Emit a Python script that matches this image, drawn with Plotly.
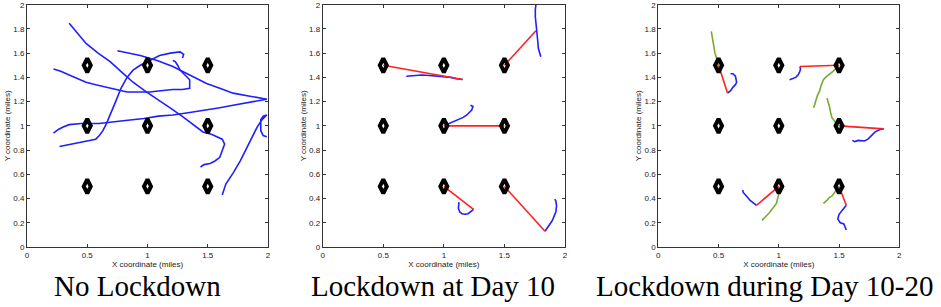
import plotly.graph_objects as go

# ---------------- data ----------------
site_x = [0.5, 1.0, 1.5, 0.5, 1.0, 1.5, 0.5, 1.0, 1.5]
site_y = [0.5, 0.5, 0.5, 1.0, 1.0, 1.0, 1.5, 1.5, 1.5]

panel_titles = ["No Lockdown", "Lockdown at Day 10", "Lockdown during Day 10-20"]
x_ticks = [0, 0.5, 1, 1.5, 2]
x_tick_text = ["0", "0.5", "1", "1.5", "2"]
y_ticks = [0, 0.2, 0.4, 0.6, 0.8, 1, 1.2, 1.4, 1.6, 1.8, 2]
y_tick_text = ["0", "0.2", "0.4", "0.6", "0.8", "1", "1.2", "1.4", "1.6", "1.8", "2"]

# Panel 1: free movement (blue)
nolock_blue_x = [
    [0.35, 0.42, 0.49, 0.59, 0.69, 0.79, 0.88, 0.99, 1.10, 1.20, 1.30, 1.38, 1.46, 1.53, 1.58, 1.62, 1.64, 1.62, 1.60, 1.56, 1.52, 1.47, 1.44],
    [0.75, 0.85, 0.94, 1.08, 1.21, 1.35, 1.49, 1.60, 1.71, 1.85, 1.99],
    [0.22, 0.28, 0.35, 0.42, 0.49, 0.57, 0.66, 0.74, 0.83, 0.92, 1.02, 1.11, 1.21, 1.29, 1.35, 1.35, 1.31, 1.27, 1.25, 1.23, 1.21],
    [0.27, 0.32, 0.38, 0.45, 0.52, 0.57, 0.60, 0.63, 0.66, 0.70, 0.74, 0.78, 0.83, 0.88, 0.94, 1.02, 1.10, 1.19, 1.27, 1.30, 1.29],
    [0.22, 0.26, 0.30, 0.35, 0.45, 0.60, 0.78, 0.97, 1.09, 1.21, 1.35, 1.49, 1.60, 1.71, 1.85, 1.99],
    [1.62, 1.65, 1.71, 1.77, 1.83, 1.87, 1.91, 1.95, 1.99, 1.96, 1.94, 1.94, 1.96, 1.99],
]
nolock_blue_y = [
    [1.846, 1.76, 1.68, 1.60, 1.53, 1.44, 1.36, 1.28, 1.21, 1.14, 1.07, 1.01, 0.95, 0.93, 0.91, 0.89, 0.85, 0.79, 0.74, 0.71, 0.69, 0.68, 0.66],
    [1.62, 1.60, 1.58, 1.54, 1.49, 1.42, 1.35, 1.31, 1.27, 1.245, 1.22],
    [1.47, 1.45, 1.42, 1.39, 1.36, 1.34, 1.32, 1.30, 1.28, 1.28, 1.28, 1.29, 1.30, 1.30, 1.31, 1.38, 1.42, 1.46, 1.50, 1.53, 1.54],
    [0.83, 0.84, 0.85, 0.87, 0.88, 0.89, 0.92, 0.96, 1.02, 1.11, 1.21, 1.31, 1.40, 1.46, 1.50, 1.54, 1.58, 1.60, 1.61, 1.59, 1.56],
    [0.94, 0.97, 0.99, 1.01, 1.02, 1.02, 1.04, 1.06, 1.08, 1.09, 1.11, 1.13, 1.15, 1.17, 1.195, 1.22],
    [0.43, 0.52, 0.61, 0.71, 0.83, 0.91, 0.99, 1.05, 1.09, 1.08, 1.05, 0.96, 0.92, 0.91],
]

# Panel 2: lockdown at day 10 (red = jump home, blue = wandering)
day10_red_x = [[0.5, 1.155], [1.5, 1.76], [1.0, 1.5], [1.0, 1.245], [1.5, 1.835]]
day10_red_y = [[1.5, 1.383], [1.5, 1.785], [1.0, 1.0], [0.5, 0.31], [0.5, 0.13]]
day10_blue_x = [
    [0.69, 0.76, 0.82, 0.88, 0.94, 1.00, 1.06, 1.10, 1.155],
    [1.80, 1.79, 1.78, 1.775, 1.77, 1.765, 1.76, 1.755, 1.755, 1.76],
    [1.00, 1.05, 1.11, 1.16, 1.19, 1.21, 1.23, 1.24, 1.22],
    [1.245, 1.22, 1.20, 1.175, 1.15, 1.13, 1.12, 1.125],
    [1.835, 1.85, 1.87, 1.89, 1.90, 1.915, 1.925, 1.93, 1.925, 1.915],
]
day10_blue_y = [
    [1.41, 1.415, 1.42, 1.415, 1.41, 1.405, 1.40, 1.39, 1.383],
    [1.57, 1.60, 1.64, 1.70, 1.74, 1.785, 1.84, 1.90, 1.96, 2.0],
    [1.00, 1.02, 1.05, 1.07, 1.09, 1.11, 1.13, 1.16, 1.17],
    [0.31, 0.29, 0.275, 0.27, 0.275, 0.29, 0.32, 0.37],
    [0.13, 0.15, 0.18, 0.21, 0.23, 0.26, 0.29, 0.34, 0.38, 0.395],
]

# Panel 3: lockdown during day 10-20 (green = return after lockdown)
period_red_x = [[0.5, 0.575], [1.5, 1.175], [1.5, 1.87], [1.0, 0.815], [1.5, 1.56]]
period_red_y = [[1.5, 1.27], [1.5, 1.49], [1.0, 0.975], [0.5, 0.344], [0.5, 0.344]]
period_blue_x = [
    [0.575, 0.60, 0.62, 0.64, 0.65, 0.645, 0.64, 0.62, 0.60],
    [1.175, 1.18, 1.175, 1.16, 1.14, 1.11, 1.09],
    [1.87, 1.84, 1.80, 1.77, 1.74, 1.71, 1.69, 1.66, 1.63, 1.61],
    [0.815, 0.79, 0.76, 0.74, 0.72, 0.705, 0.70],
    [1.56, 1.54, 1.52, 1.50, 1.49, 1.51, 1.54, 1.555, 1.56],
]
period_blue_y = [
    [1.27, 1.29, 1.32, 1.34, 1.36, 1.39, 1.41, 1.43, 1.43],
    [1.49, 1.47, 1.45, 1.42, 1.40, 1.385, 1.38],
    [0.975, 0.97, 0.95, 0.92, 0.89, 0.875, 0.875, 0.88, 0.87, 0.88],
    [0.344, 0.36, 0.386, 0.41, 0.43, 0.45, 0.47],
    [0.344, 0.32, 0.30, 0.27, 0.23, 0.20, 0.19, 0.16, 0.14],
]
period_green_x = [
    [0.44, 0.45, 0.46, 0.47, 0.48, 0.50],
    [1.5, 1.45, 1.40, 1.37, 1.35, 1.34, 1.32, 1.31, 1.29],
    [1.40, 1.41, 1.42, 1.43, 1.44, 1.47, 1.50],
    [1.0, 1.0, 0.98, 0.96, 0.94, 0.92, 0.90, 0.88, 0.86],
    [1.5, 1.46, 1.44, 1.42, 1.40, 1.37],
]
period_green_y = [
    [1.78, 1.72, 1.65, 1.60, 1.57, 1.5],
    [1.5, 1.45, 1.41, 1.38, 1.33, 1.29, 1.25, 1.21, 1.15],
    [1.23, 1.20, 1.16, 1.11, 1.07, 1.03, 1.00],
    [0.5, 0.44, 0.36, 0.33, 0.30, 0.28, 0.26, 0.24, 0.22],
    [0.5, 0.45, 0.42, 0.41, 0.385, 0.36],
]

BLUE = "#1f1fff"
RED = "#ff2020"
GREEN = "#77ac30"

# ---------------- figure ----------------
W, H = 941, 307
fig = go.Figure()

def add_lines(xs, ys, color, ax):
    for x, y in zip(xs, ys):
        fig.add_trace(go.Scatter(x=x, y=y, mode="lines", line=dict(color=color, width=1.6),
                                 xaxis="x" + ax, yaxis="y" + ax, showlegend=False, hoverinfo="skip"))

def add_sites(ax):
    fig.add_trace(go.Scatter(x=site_x, y=site_y, mode="markers",
                             marker=dict(symbol="diamond-tall-open", size=10, color="black",
                                         line=dict(color="black", width=4)),
                             xaxis="x" + ax, yaxis="y" + ax, showlegend=False, hoverinfo="skip"))

add_lines(nolock_blue_x, nolock_blue_y, BLUE, "")
add_sites("")
add_lines(day10_blue_x, day10_blue_y, BLUE, "2")
add_lines(day10_red_x, day10_red_y, RED, "2")
add_sites("2")
add_lines(period_green_x, period_green_y, GREEN, "3")
add_lines(period_blue_x, period_blue_y, BLUE, "3")
add_lines(period_red_x, period_red_y, RED, "3")
add_sites("3")

ydom = [1 - 247 / H, 1 - 4.7 / H]
xdoms = [[27 / W, 268 / W], [322.7 / W, 565 / W], [658.3 / W, 899.3 / W]]

tick_font = dict(family="Liberation Sans, Arial, sans-serif", size=8, color="#222")
title_font = dict(family="Liberation Sans, Arial, sans-serif", size=8, color="#222")

layout = dict(width=W, height=H, margin=dict(l=0, r=0, t=0, b=0),
              paper_bgcolor="white", plot_bgcolor="white", showlegend=False)
for i, dom in enumerate(xdoms):
    sfx = "" if i == 0 else str(i + 1)
    layout["xaxis" + sfx] = dict(domain=dom, range=[0, 2], anchor="y" + sfx, automargin=False,
                                 tickvals=x_ticks, ticktext=x_tick_text, ticks="inside",
                                 ticklen=3, tickcolor="#333", showline=True, linecolor="#333",
                                 linewidth=1, mirror="ticks", showgrid=False, zeroline=False,
                                 tickfont=tick_font,
                                 title=dict(text="X coordinate (miles)", font=title_font, standoff=1))
    layout["yaxis" + sfx] = dict(domain=ydom, range=[0, 2], anchor="x" + sfx, automargin=False,
                                 tickvals=y_ticks, ticktext=y_tick_text, ticks="inside",
                                 ticklen=3, tickcolor="#333", showline=True, linecolor="#333",
                                 linewidth=1, mirror="ticks", showgrid=False, zeroline=False,
                                 tickfont=tick_font,
                                 title=dict(text="Y coordinate (miles)", font=title_font, standoff=1))
fig.update_layout(**layout)

title_centers = [137, 433, 764]
for t, cx in zip(panel_titles, title_centers):
    fig.add_annotation(text=t, x=cx / W, y=1 - 286 / H, xref="paper", yref="paper",
                       showarrow=False, xanchor="center", yanchor="middle",
                       font=dict(family="Liberation Serif, Times New Roman, serif", size=29, color="black"))

fig.write_html("out.html", config={"displayModeBar": False},
               post_script="document.body.style.margin='0';document.body.style.overflow='hidden';")
